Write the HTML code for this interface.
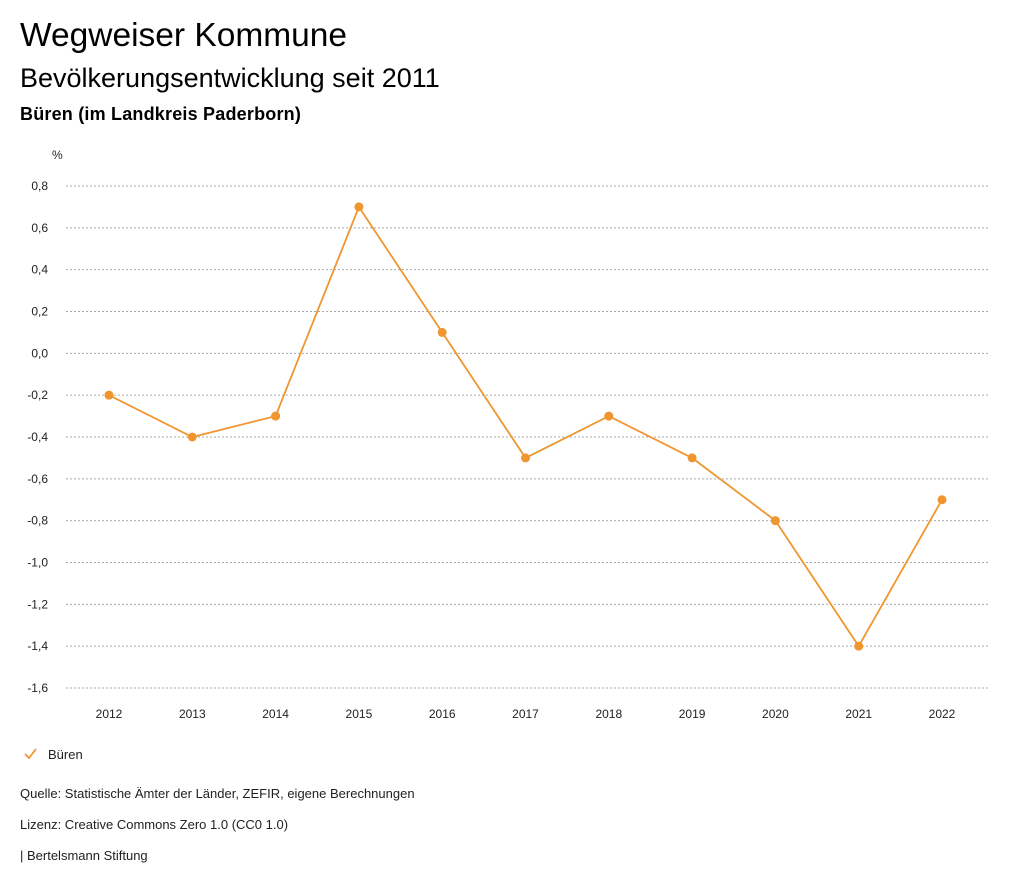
<!DOCTYPE html>
<html><head><meta charset="utf-8">
<style>
body{margin:0;background:#fff;width:1024px;height:888px;overflow:hidden;font-family:"Liberation Sans",sans-serif;color:#000}
.t1{position:absolute;left:20px;top:17px;font-size:33.5px}
.t2{position:absolute;left:20px;top:63px;font-size:27px}
.t3{position:absolute;left:20px;top:104px;font-size:18px;font-weight:bold;letter-spacing:0.2px}
.foot{position:absolute;left:20px;font-size:13px;color:#222}
</style></head><body>
<div class="t1">Wegweiser Kommune</div>
<div class="t2">Bevölkerungsentwicklung seit 2011</div>
<div class="t3">Büren (im Landkreis Paderborn)</div>
<svg id="chart" width="1024" height="888" style="position:absolute;left:0;top:0"></svg>
<div class="foot" style="top:786px">Quelle: Statistische Ämter der Länder, ZEFIR, eigene Berechnungen</div>
<div class="foot" style="top:817px">Lizenz: Creative Commons Zero 1.0 (CC0 1.0)</div>
<div class="foot" style="top:848px">| Bertelsmann Stiftung</div>
<script>
const years = [2012,2013,2014,2015,2016,2017,2018,2019,2020,2021,2022];
const values = [-0.2,-0.4,-0.3,0.7,0.1,-0.5,-0.3,-0.5,-0.8,-1.4,-0.7];
const yTicks = [0.8,0.6,0.4,0.2,0.0,-0.2,-0.4,-0.6,-0.8,-1.0,-1.2,-1.4,-1.6];
const seriesName = "Büren";
const color = "#ef962f";
const svg = document.getElementById('chart');
const NS = "http://www.w3.org/2000/svg";
const yMin=-1.6,yMax=0.8,yTop=186,yBot=688;
const xFirst=109,xLast=942;
const y = v => yBot - (v-yMin)/(yMax-yMin)*(yBot-yTop);
const x = i => xFirst + i*(xLast-xFirst)/(years.length-1);
function mk(tag, attrs){const e=document.createElementNS(NS,tag);for(const k in attrs)e.setAttribute(k,attrs[k]);svg.appendChild(e);return e;}
let u=mk('text',{x:52,y:159,'font-size':12,fill:'#222'});u.textContent='%';


yTicks.forEach(v=>{
  const g=mk('line',{x1:66,x2:990,y1:y(v),y2:y(v),stroke:'#aaa','stroke-dasharray':'2,2','stroke-width':1});
  
  
  const t=mk('text',{x:48,y:y(v)+4,'font-size':12,'text-anchor':'end',fill:'#222'});
  t.textContent=v.toFixed(1).replace('.',',').replace('-0,0','0,0');
  
  
});
years.forEach((yr,i)=>{
  const t=mk('text',{x:x(i),y:718,'font-size':12,'text-anchor':'middle',fill:'#222'});
  t.textContent=yr;
  
  
});
const line=mk('polyline',{points:values.map((v,i)=>x(i)+','+y(v)).join(' '),fill:'none',stroke:color,'stroke-width':1.8});


values.forEach((v,i)=>{
  const c=mk('circle',{cx:x(i),cy:y(v),r:4.5,fill:color});
  
  
});
const chk=mk('polyline',{points:'25,754 29,758 36,749',fill:'none',stroke:color,'stroke-width':1.8});


const lt=mk('text',{x:48,y:759,'font-size':13,fill:'#222'});
lt.textContent=seriesName;


</script>
</body></html>
